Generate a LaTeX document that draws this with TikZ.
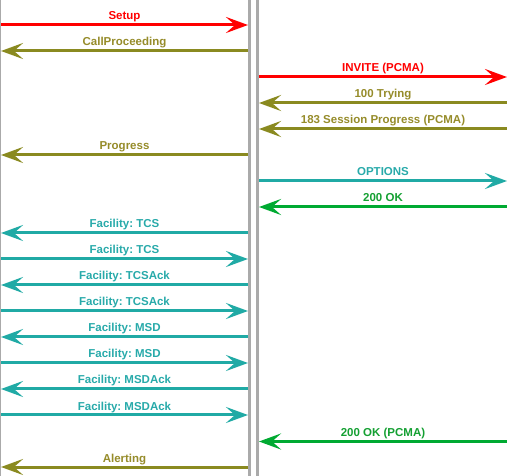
\documentclass[tikz,border=0pt]{standalone}
\usepackage{fontspec}
\setmainfont{Liberation Sans}
\usetikzlibrary{arrows.meta,calc}
\definecolor{cred}{RGB}{255,0,0}
\definecolor{colive}{RGB}{138,138,32}
\definecolor{coliveT}{RGB}{150,140,42}
\definecolor{cteal}{RGB}{32,170,165}
\definecolor{ctealT}{RGB}{40,170,170}
\definecolor{cgreen}{RGB}{0,170,50}
\definecolor{cgreenT}{RGB}{20,160,50}
\definecolor{cgray}{RGB}{170,170,170}
\frenchspacing
\newcommand\seqmsg[7]{%
  \coordinate (#1s) at (#3,#2);
  \coordinate (#1e) at (#4,#2);
  \draw[msg, draw=#5] (#1s) -- (#1e);
  \node[lbl, text=#6] (#1) at ($(#1s)!0.5!(#1e)+(0,-5)$) {#7};}
\begin{document}
\begin{tikzpicture}[x=1pt,y=-1pt,
  msg/.style={line width=3pt, -{Stealth[length=22pt,width=16pt,inset=9pt]}},
  lbl/.style={font=\bfseries\frenchspacing\fontsize{11.5}{13}\selectfont, anchor=base, inner sep=0pt},
  life/.style={draw=cgray, line width=3pt}]
\useasboundingbox (0,0) rectangle (507,476);
\fill[white] (0,0) rectangle (507,476);
% lifelines
\coordinate (A0) at (0.65,0);  \coordinate (A1) at (0.65,476);
\coordinate (B0) at (249.5,0); \coordinate (B1) at (249.5,476);
\coordinate (C0) at (257.5,0); \coordinate (C1) at (257.5,476);
\draw[cgray, line width=1.3pt] (A0) -- (A1);
\draw[life] (B0) -- (B1);
\draw[life] (C0) -- (C1);
% messages
\seqmsg{m1}{25}{1}{248}{cred}{cred}{Setup}
\seqmsg{m2}{51}{248}{1}{colive}{coliveT}{CallProceeding}
\seqmsg{m3}{77}{259}{507}{cred}{cred}{INVITE (PCMA)}
\seqmsg{m4}{103}{507}{259}{colive}{coliveT}{100 Trying}
\seqmsg{m5}{129}{507}{259}{colive}{coliveT}{183 Session Progress (PCMA)}
\seqmsg{m6}{155}{248}{1}{colive}{coliveT}{Progress}
\seqmsg{m7}{181}{259}{507}{cteal}{ctealT}{OPTIONS}
\seqmsg{m8}{207}{507}{259}{cgreen}{cgreenT}{200 OK}
\seqmsg{m9}{233}{248}{1}{cteal}{ctealT}{Facility: TCS}
\seqmsg{m10}{259}{1}{248}{cteal}{ctealT}{Facility: TCS}
\seqmsg{m11}{285}{248}{1}{cteal}{ctealT}{Facility: TCSAck}
\seqmsg{m12}{311}{1}{248}{cteal}{ctealT}{Facility: TCSAck}
\seqmsg{m13}{337}{248}{1}{cteal}{ctealT}{Facility: MSD}
\seqmsg{m14}{363}{1}{248}{cteal}{ctealT}{Facility: MSD}
\seqmsg{m15}{389}{248}{1}{cteal}{ctealT}{Facility: MSDAck}
\seqmsg{m16}{415}{1}{248}{cteal}{ctealT}{Facility: MSDAck}
\seqmsg{m17}{441.5}{507}{259}{cgreen}{cgreenT}{200 OK (PCMA)}
\seqmsg{m18}{467}{248}{1}{colive}{coliveT}{Alerting}
\end{tikzpicture}
\end{document}
